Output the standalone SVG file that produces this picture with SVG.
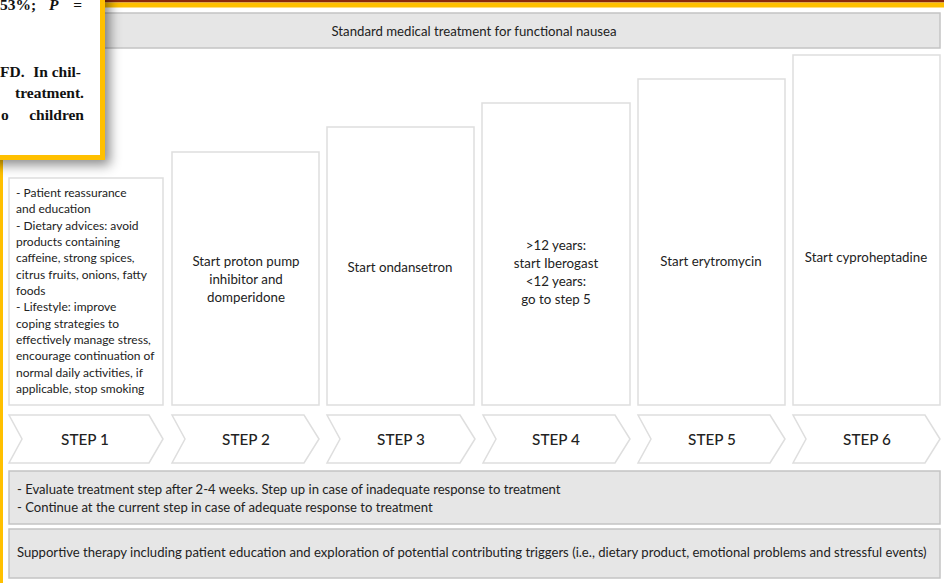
<svg xmlns="http://www.w3.org/2000/svg" width="944" height="583" viewBox="0 0 944 583">
<defs>
<style>
.t{font-family:Lato,"Open Sans","Liberation Sans",sans-serif;fill:#222;}
.box{fill:#fff;stroke:#dedede;stroke-width:1.5;}
.gray{fill:#e6e6e6;stroke:#c4c4c4;stroke-width:1.5;}
.chev{fill:#fff;stroke:#dedede;stroke-width:1.5;}
.s{font-size:13.3px;text-anchor:middle;}
.b1{font-size:12px;}
.st{font-size:15.3px;text-anchor:middle;font-weight:500;}
.pop{font-family:"Liberation Serif","DejaVu Serif",serif;font-weight:bold;font-size:15.5px;fill:#111;}
.e{text-anchor:end;}
</style>
<filter id="sh" x="-20%" y="-20%" width="150%" height="150%">
<feDropShadow dx="5" dy="5" stdDeviation="6" flood-color="#000" flood-opacity="0.45"/>
</filter>
</defs>
<rect x="0" y="0" width="944" height="583" fill="#fff"/>
<rect x="0" y="0" width="944" height="2.5" fill="#8b2a0c"/>
<rect x="0" y="2.5" width="944" height="5" fill="#ffc000"/>
<rect x="0" y="0" width="3" height="583" fill="#ffc000"/>

<g id="header">
<rect class="gray" x="8" y="13" width="932" height="35"/>
<text class="t" x="474" y="35.5" font-size="13.2px" text-anchor="middle">Standard medical treatment for functional nausea</text>
</g>

<g id="box1">
<rect class="box" x="9" y="178" width="154" height="227"/>
<text class="t b1" x="16" y="197">- Patient reassurance</text>
<text class="t b1" x="16" y="213.3">and education</text>
<text class="t b1" x="16" y="229.7">- Dietary advices: avoid</text>
<text class="t b1" x="16" y="246">products containing</text>
<text class="t b1" x="16" y="262.3">caffeine, strong spices,</text>
<text class="t b1" x="16" y="278.7">citrus fruits, onions, fatty</text>
<text class="t b1" x="16" y="295">foods</text>
<text class="t b1" x="16" y="311.3">- Lifestyle: improve</text>
<text class="t b1" x="16" y="327.7">coping strategies to</text>
<text class="t b1" x="16" y="344">effectively manage stress,</text>
<text class="t b1" x="16" y="360.3">encourage continuation of</text>
<text class="t b1" x="16" y="376.7">normal daily activities, if</text>
<text class="t b1" x="16" y="393">applicable, stop smoking</text>
</g>
<g id="box2">
<rect class="box" x="172" y="152" width="147" height="253"/>
<text class="t s" x="246" y="266">Start proton pump</text>
<text class="t s" x="246" y="284">inhibitor and</text>
<text class="t s" x="246" y="302">domperidone</text>
</g>
<g id="box3">
<rect class="box" x="327" y="127" width="147" height="278"/>
<text class="t s" x="400" y="272">Start ondansetron</text>
</g>
<g id="box4">
<rect class="box" x="482" y="103" width="148" height="302"/>
<text class="t s" x="556" y="250">&gt;12 years:</text>
<text class="t s" x="556" y="268">start Iberogast</text>
<text class="t s" x="556" y="286">&lt;12 years:</text>
<text class="t s" x="556" y="304">go to step 5</text>
</g>
<g id="box5">
<rect class="box" x="638" y="79" width="147" height="326"/>
<text class="t s" x="711" y="266">Start erytromycin</text>
</g>
<g id="box6">
<rect class="box" x="793" y="55" width="147" height="350"/>
<text class="t s" x="866" y="262">Start cyproheptadine</text>
</g>

<g id="step1">
<path class="chev" d="M9,415 H149 L163,439 L149,463 H9 L22,439 Z"/>
<text class="t st" x="85" y="444.5">STEP 1</text>
</g>
<g id="step2">
<path class="chev" d="M172,415 H304 L319,439 L304,463 H172 L185,439 Z"/>
<text class="t st" x="246" y="444.5">STEP 2</text>
</g>
<g id="step3">
<path class="chev" d="M327,415 H460 L475,439 L460,463 H327 L340,439 Z"/>
<text class="t st" x="401" y="444.5">STEP 3</text>
</g>
<g id="step4">
<path class="chev" d="M483,415 H615 L630,439 L615,463 H483 L496,439 Z"/>
<text class="t st" x="556" y="444.5">STEP 4</text>
</g>
<g id="step5">
<path class="chev" d="M638,415 H770 L785,439 L770,463 H638 L651,439 Z"/>
<text class="t st" x="712" y="444.5">STEP 5</text>
</g>
<g id="step6">
<path class="chev" d="M793,415 H925 L940,439 L925,463 H793 L806,439 Z"/>
<text class="t st" x="867" y="444.5">STEP 6</text>
</g>

<g id="evaluate">
<rect class="gray" x="9" y="471" width="931" height="53"/>
<text class="t" x="17" y="493.5" font-size="13.1px">- Evaluate treatment step after 2-4 weeks. Step up in case of inadequate response to treatment</text>
<text class="t" x="17" y="511.5" font-size="13.1px">- Continue at the current step in case of adequate response to treatment</text>
</g>
<g id="supportive">
<rect class="gray" x="9" y="529" width="931" height="49"/>
<text class="t" x="17" y="556.5" font-size="13.1px">Supportive therapy including patient education and exploration of potential contributing triggers (i.e., dietary product, emotional problems and stressful events)</text>
</g>

<g id="connectors"></g>

<g id="popup">
<rect x="-10" y="-10" width="112.5" height="167.5" fill="#fff" stroke="#ffc000" stroke-width="5" filter="url(#sh)"/>
<text class="pop" x="0" y="10">53%;</text>
<text class="pop" x="49" y="10" font-style="italic">P</text>
<text class="pop e" x="82" y="10">=</text>
<text class="pop" x="0" y="77">FD.</text>
<text class="pop e" x="81" y="77">In chil-</text>
<text class="pop e" x="84" y="98">treatment.</text>
<text class="pop" x="1" y="120">o</text>
<text class="pop e" x="84" y="120">children</text>
</g>
</svg>
